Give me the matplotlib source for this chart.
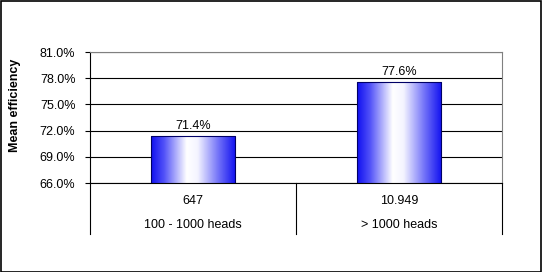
import numpy as np
import matplotlib.pyplot as plt
from matplotlib.patches import Rectangle
from matplotlib.colors import LinearSegmentedColormap

# data
groups = ['100 - 1000 heads', '> 1000 heads']
counts = ['647', '10.949']
efficiency = [71.4, 77.6]
yticks = [66, 69, 72, 75, 78, 81]

plt.rcParams['font.family'] = ['Liberation Sans', 'DejaVu Sans']
fs = 9

fig = plt.figure(figsize=(5.44, 2.72), dpi=100)
W, H = 544, 272
ax = fig.add_axes([90 / W, 1 - 183 / H, (502 - 90) / W, (183 - 52) / H])

# bars with a blue-white-blue horizontal gradient
cmap = LinearSegmentedColormap.from_list(
    'barfade', [(0.0, '#1010f0'), (0.15, '#5050f8'), (0.42, '#ffffff'),
                (0.55, '#f4f4ff'), (0.8, '#7070f8'), (1.0, '#1010f0')])
grad = np.linspace(0, 1, 256).reshape(1, -1)
bw = 0.41
x = np.arange(len(groups))
bars = ax.bar(x, efficiency, width=bw, bottom=0, color='none',
              edgecolor='#000066', linewidth=0.8, zorder=3)
for b, v in zip(bars, efficiency):
    x0 = b.get_x()
    im = ax.imshow(grad, cmap=cmap, aspect='auto',
                   extent=[x0, x0 + bw, 66, v], zorder=2)
    im.set_clip_path(b)
    ax.annotate(f'{v:.1f}%', (b.get_x() + bw / 2, v), xytext=(0, 3),
                textcoords='offset points', ha='center', va='bottom',
                fontsize=fs)
ax.set_xlim(-0.5, 1.5)
ax.set_ylim(66, 81)

ax.set_yticks(yticks)
ax.set_yticklabels([f'{t:.1f}%' for t in yticks], fontsize=fs)
ax.yaxis.grid(True, color='black', linewidth=0.8)
ax.set_axisbelow(True)
ax.tick_params(axis='y', length=3.5, width=0.8, pad=7)
ax.set_xticks([])

for s in ['top', 'right']:
    ax.spines[s].set_color('#808080')
    ax.spines[s].set_linewidth(0.8)
ax.spines['left'].set_linewidth(0.8)
ax.spines['bottom'].set_linewidth(0.8)

# category "table" below the axis
tr = ax.get_xaxis_transform()
low = -51 / 131
for xv in [-0.5, 0.5, 1.5]:
    ax.plot([xv, xv], [0, low], transform=tr, color='black', linewidth=0.8,
            clip_on=False)
for i in range(len(groups)):
    ax.text(i, -18 / 131, counts[i], transform=tr, ha='center', va='center',
            fontsize=fs)
    ax.text(i, -42 / 131, groups[i], transform=tr, ha='center', va='center',
            fontsize=fs)

fig.text(15 / W, 1 - 105 / H, 'Mean efficiency', rotation=90, ha='center',
         va='center', fontsize=fs, fontweight='bold')

fig.patches.append(Rectangle((0.5 / W, 0.5 / H), 540 / W, 271 / H,
                             transform=fig.transFigure, fill=False,
                             edgecolor='black', linewidth=1.2))

fig.savefig('out.png', dpi=100)
